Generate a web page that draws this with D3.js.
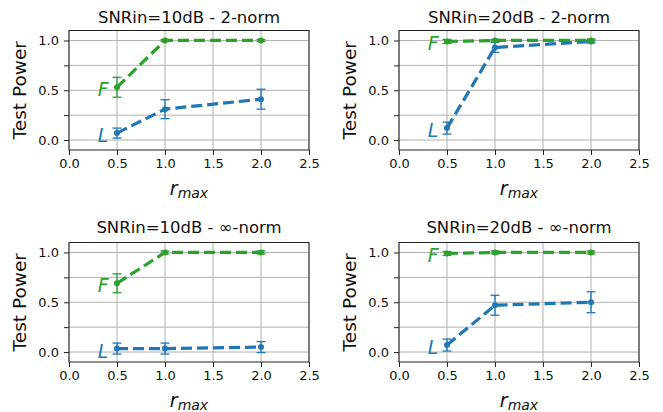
<!DOCTYPE html>
<html lang="en">
<head>
<meta charset="utf-8">
<style>
  body { margin: 0; background: #fff; }
  svg { display: block; font-family: "DejaVu Sans", sans-serif; }
</style>
</head>
<body>
<svg width="663" height="412"></svg>
<script src="https://cdn.jsdelivr.net/npm/d3@7"></script>
<script>
// data
var rmax = [0.5, 1.0, 2.0]
var panelTitles = ['SNRin=10dB - 2-norm', 'SNRin=20dB - 2-norm',
  'SNRin=10dB - \u221e-norm', 'SNRin=20dB - \u221e-norm']
var fValues = [[0.53, 1.0, 1.0], [0.99, 1.0, 1.0], [0.69, 1.0, 1.0], [0.99, 1.0, 1.0]]
var fErrors = [[0.1, 0.01, 0.01], [0.02, 0.01, 0.015], [0.095, 0.015, 0.015], [0.02, 0.015, 0.015]]
var lValues = [[0.07, 0.31, 0.41], [0.12, 0.93, 0.99], [0.035, 0.035, 0.05], [0.07, 0.47, 0.5]]
var lErrors = [[0.05, 0.095, 0.1], [0.06, 0.05, 0.015], [0.055, 0.055, 0.055], [0.06, 0.1, 0.105]]
var xTicks = [0, 0.5, 1.0, 1.5, 2.0, 2.5]
var yTicks = [0, 0.25, 0.5, 0.75, 1.0]
var yTickLabels = {'0': '0.0', '0.5': '0.5', '1': '1.0'}

var blue = '#1f77b4', green = '#2ca02c'
var svg = d3.select('svg')

var panels = [
  {left: 69, top: 30.5, titleY: 22.5},
  {left: 399, top: 30.5, titleY: 22.5},
  {left: 69, top: 242.5, titleY: 232.8},
  {left: 399, top: 242.5, titleY: 232.8}
]
var pw = 240, ph = 119.5

panels.forEach(function (p, i) {
  var x = d3.scaleLinear().domain([0, 2.5]).range([0, pw])
  var y = d3.scaleLinear().domain([-0.1, 1.1]).range([ph, 0])
  var g = svg.append('g').attr('transform', 'translate(' + p.left + ',' + p.top + ')')

  // grid
  g.append('g').selectAll('line').data(xTicks).enter().append('line')
    .attr('x1', function (d) { return x(d) }).attr('x2', function (d) { return x(d) })
    .attr('y1', 0).attr('y2', ph)
    .attr('stroke', '#b0b0b0').attr('stroke-width', 1)
  g.append('g').selectAll('line').data(yTicks).enter().append('line')
    .attr('y1', function (d) { return y(d) }).attr('y2', function (d) { return y(d) })
    .attr('x1', 0).attr('x2', pw)
    .attr('stroke', '#b0b0b0').attr('stroke-width', 1)

  // axes
  var xAxis = g.append('g').attr('transform', 'translate(0,' + ph + ')')
    .call(d3.axisBottom(x).tickValues(xTicks).tickSize(5).tickPadding(4)
      .tickFormat(d3.format('.1f')))
  var yAxis = g.append('g')
    .call(d3.axisLeft(y).tickValues(yTicks).tickSize(5).tickPadding(5)
      .tickFormat(function (d) { return yTickLabels[String(d)] || '' }))
  ;[xAxis, yAxis].forEach(function (a) {
    a.select('.domain').remove()
    a.selectAll('text').attr('font-size', 13).attr('fill', '#111')
      .attr('font-family', '"DejaVu Sans", sans-serif')
    a.selectAll('line').attr('stroke', '#222').attr('stroke-width', 1)
  })

  // frame
  g.append('rect').attr('width', pw).attr('height', ph)
    .attr('fill', 'none').attr('stroke', '#222').attr('stroke-width', 1)

  // series
  var series = [
    {name: 'L', vals: lValues[i], errs: lErrors[i], color: blue},
    {name: 'F', vals: fValues[i], errs: fErrors[i], color: green}
  ]
  series.forEach(function (s) {
    var pts = rmax.map(function (r, k) { return {r: r, v: s.vals[k], e: s.errs[k]} })
    var sg = g.append('g')
    var bars = sg.selectAll('g.err').data(pts).enter().append('g')
      .attr('stroke', s.color).attr('stroke-width', 1.3)
    bars.append('line')
      .attr('x1', function (d) { return x(d.r) }).attr('x2', function (d) { return x(d.r) })
      .attr('y1', function (d) { return y(d.v - d.e) }).attr('y2', function (d) { return y(d.v + d.e) })
    ;[-1, 1].forEach(function (sgn) {
      bars.append('line')
        .attr('x1', function (d) { return x(d.r) - 4.5 }).attr('x2', function (d) { return x(d.r) + 4.5 })
        .attr('y1', function (d) { return y(d.v + sgn * d.e) }).attr('y2', function (d) { return y(d.v + sgn * d.e) })
    })
    sg.append('path').datum(pts)
      .attr('d', d3.line().x(function (d) { return x(d.r) }).y(function (d) { return y(d.v) }))
      .attr('fill', 'none').attr('stroke', s.color).attr('stroke-width', 3.2)
      .attr('stroke-dasharray', '11,5')
    sg.selectAll('circle').data(pts).enter().append('circle')
      .attr('cx', function (d) { return x(d.r) }).attr('cy', function (d) { return y(d.v) })
      .attr('r', 3).attr('fill', s.color)
    sg.append('text')
      .attr('x', x(0.3)).attr('y', y(s.vals[0]) + 9)
      .attr('font-size', 19).attr('font-style', 'italic')
      .attr('fill', s.color).text(s.name)
  })

  // labels
  svg.append('text').attr('x', p.left + pw / 2).attr('y', p.titleY)
    .attr('text-anchor', 'middle').attr('font-size', 16.5).attr('fill', '#111')
    .text(panelTitles[i])
  var xl = svg.append('text').attr('x', p.left + pw / 2).attr('y', p.top + ph + 45)
    .attr('text-anchor', 'middle').attr('fill', '#111')
  xl.append('tspan').attr('font-size', 19).attr('font-style', 'italic').text('r')
  xl.append('tspan').attr('font-size', 14).attr('font-style', 'italic').attr('dy', 3).text('max')
  svg.append('text')
    .attr('transform', 'translate(' + (p.left - 43) + ',' + (p.top + ph / 2) + ') rotate(-90)')
    .attr('text-anchor', 'middle').attr('font-size', 18.5).attr('fill', '#111')
    .text('Test Power')
})
</script>
</body>
</html>
